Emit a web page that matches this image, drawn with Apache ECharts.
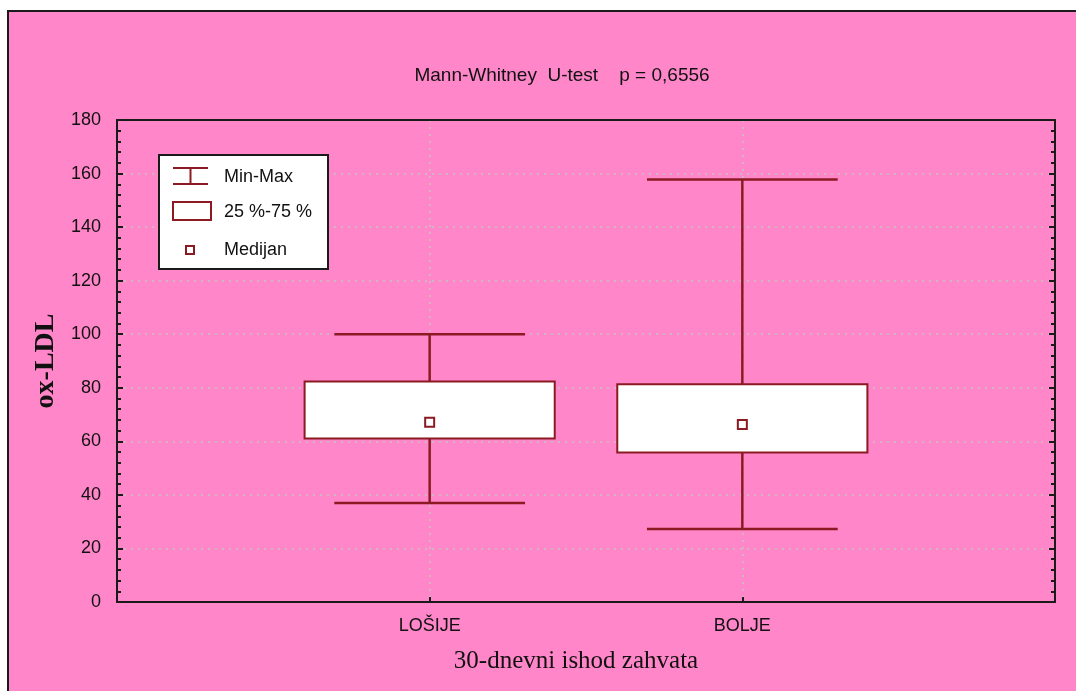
<!DOCTYPE html>
<html>
<head>
<meta charset="utf-8">
<script src="https://cdn.jsdelivr.net/npm/echarts@6/dist/echarts.min.js"></script>
<style>
body{margin:0;background:#fff;}
#frame{position:absolute;left:7px;top:10px;width:1069px;height:681px;border-left:2px solid #1a1a1a;border-top:2px solid #1a1a1a;box-sizing:border-box;}
#main{position:absolute;left:9px;top:12px;width:1067px;height:679px;}
</style>
</head>
<body>
<div id="frame"></div>
<div id="main"></div>
<script>
  // podaci ocitani sa slike
  var categories = ['LOŠIJE', 'BOLJE'];
  var xPos = [1, 2];
  var minVals = [37, 27.3];
  var q1Vals = [61.1, 55.8];
  var medianVals = [67.1, 66.3];
  var q3Vals = [82.3, 81.3];
  var maxVals = [100, 157.8];
  var yTicks = [0, 20, 40, 60, 80, 100, 120, 140, 160, 180];

  var boxColor = '#8b1a22';
  var sansFont = 'Liberation Sans, Arial, sans-serif';
  var serifFont = 'Liberation Serif, Times New Roman, serif';

  var boxData = xPos.map(function (x, i) {
    return [x, minVals[i], q1Vals[i], medianVals[i], q3Vals[i], maxVals[i]];
  });

  var gridLine = {show: true, lineStyle: {color: '#c4c4c4', type: [2, 5], width: 1.5}};
  var axisDark = {show: true, onZero: false, lineStyle: {color: '#1a1a1a', width: 2}};

  var myChart = echarts.init(document.getElementById('main'));
  var option = {
    backgroundColor: '#ff86c8',
    animation: false,
    grid: {
      left: 108, top: 108, right: 21, bottom: 89,
      show: false
    },
    graphic: [
      {
        type: 'text', z: 100,
        style: {
          text: 'Mann-Whitney  U-test    p = 0,6556',
          x: 553, y: 64, textAlign: 'center', textVerticalAlign: 'middle',
          font: '19px ' + sansFont, fill: '#111'
        }
      },
      // legenda
      {type: 'rect', z: 100, shape: {x: 150, y: 143, width: 169, height: 114},
        style: {fill: '#fff', stroke: '#1a1a1a', lineWidth: 2}},
      {type: 'line', z: 101, shape: {x1: 164, y1: 156, x2: 199, y2: 156}, style: {stroke: boxColor, lineWidth: 2}},
      {type: 'line', z: 101, shape: {x1: 164, y1: 172, x2: 199, y2: 172}, style: {stroke: boxColor, lineWidth: 2}},
      {type: 'line', z: 101, shape: {x1: 181.5, y1: 156, x2: 181.5, y2: 172}, style: {stroke: boxColor, lineWidth: 2}},
      {type: 'rect', z: 101, shape: {x: 164, y: 190, width: 38, height: 18}, style: {fill: '#fff', stroke: boxColor, lineWidth: 2}},
      {type: 'rect', z: 101, shape: {x: 177, y: 234, width: 8, height: 8}, style: {fill: '#fff', stroke: boxColor, lineWidth: 2}},
      {type: 'text', z: 101, style: {text: 'Min-Max', x: 215, y: 165, textVerticalAlign: 'middle', font: '18px ' + sansFont, fill: '#111'}},
      {type: 'text', z: 101, style: {text: '25 %-75 %', x: 215, y: 200, textVerticalAlign: 'middle', font: '18px ' + sansFont, fill: '#111'}},
      {type: 'text', z: 101, style: {text: 'Medijan', x: 215, y: 238, textVerticalAlign: 'middle', font: '18px ' + sansFont, fill: '#111'}}
    ],
    xAxis: [
      {
        type: 'value', min: 0, max: 3, interval: 1,
        name: '30-dnevni ishod zahvata', nameLocation: 'middle', nameGap: 47,
        nameTextStyle: {fontFamily: serifFont, fontSize: 25, color: '#111', padding: [0, 20, 0, 0]},
        axisLine: axisDark,
        axisTick: {show: true, inside: true, length: 5, lineStyle: {color: '#1a1a1a', width: 2}},
        axisLabel: {
          margin: 15, fontFamily: sansFont, fontSize: 18, color: '#111',
          formatter: function (v) {
            var i = xPos.indexOf(v);
            return i >= 0 ? categories[i] : '';
          }
        },
        splitLine: gridLine
      },
      {
        type: 'value', min: 0, max: 3, position: 'top',
        axisLine: axisDark, axisTick: {show: false}, axisLabel: {show: false}, splitLine: {show: false}
      }
    ],
    yAxis: [
      {
        type: 'value', min: 0, max: 180, interval: 20,
        name: 'ox-LDL', nameLocation: 'middle', nameGap: 55,
        nameTextStyle: {fontFamily: serifFont, fontSize: 28, fontWeight: 'bold', color: '#111'},
        axisLine: axisDark,
        axisTick: {show: true, inside: true, length: 6, lineStyle: {color: '#1a1a1a', width: 2}},
        minorTick: {show: true, splitNumber: 5, length: 4, lineStyle: {color: '#1a1a1a', width: 2}},
        axisLabel: {
          margin: 16, fontFamily: sansFont, fontSize: 18, color: '#111',
          formatter: function (v) { return yTicks.indexOf(v) >= 0 ? String(v) : ''; }
        },
        splitLine: gridLine
      },
      {
        type: 'value', min: 0, max: 180, interval: 20, position: 'right',
        axisLine: axisDark,
        axisTick: {show: true, inside: true, length: 6, lineStyle: {color: '#1a1a1a', width: 2}},
        minorTick: {show: true, splitNumber: 5, length: 4, lineStyle: {color: '#1a1a1a', width: 2}},
        axisLabel: {show: false},
        splitLine: {show: false}
      }
    ],
    series: [
      {
        type: 'custom',
        yAxisIndex: 0,
        data: boxData,
        renderItem: function (params, api) {
          var x = api.value(0);
          var pMin = api.coord([x, api.value(1)]);
          var pQ1 = api.coord([x, api.value(2)]);
          var pMed = api.coord([x, api.value(3)]);
          var pQ3 = api.coord([x, api.value(4)]);
          var pMax = api.coord([x, api.value(5)]);
          var boxW = api.size([0.8, 0])[0];
          var capW = api.size([0.61, 0])[0];
          var st = {stroke: boxColor, lineWidth: 2.5, fill: null};
          return {
            type: 'group',
            children: [
              {type: 'line', shape: {x1: pMin[0], y1: pMin[1], x2: pQ1[0], y2: pQ1[1]}, style: st},
              {type: 'line', shape: {x1: pQ3[0], y1: pQ3[1], x2: pMax[0], y2: pMax[1]}, style: st},
              {type: 'line', shape: {x1: pMin[0] - capW / 2, y1: pMin[1], x2: pMin[0] + capW / 2, y2: pMin[1]}, style: st},
              {type: 'line', shape: {x1: pMax[0] - capW / 2, y1: pMax[1], x2: pMax[0] + capW / 2, y2: pMax[1]}, style: st},
              {type: 'rect', shape: {x: pQ3[0] - boxW / 2, y: pQ3[1], width: boxW, height: pQ1[1] - pQ3[1]},
                style: {fill: '#fff', stroke: boxColor, lineWidth: 2}},
              {type: 'rect', shape: {x: pMed[0] - 4.5, y: pMed[1] - 4.5, width: 9, height: 9},
                style: {fill: '#fff', stroke: boxColor, lineWidth: 2}}
            ]
          };
        }
      }
    ]
  };
  myChart.setOption(option);
</script>
</body>
</html>
